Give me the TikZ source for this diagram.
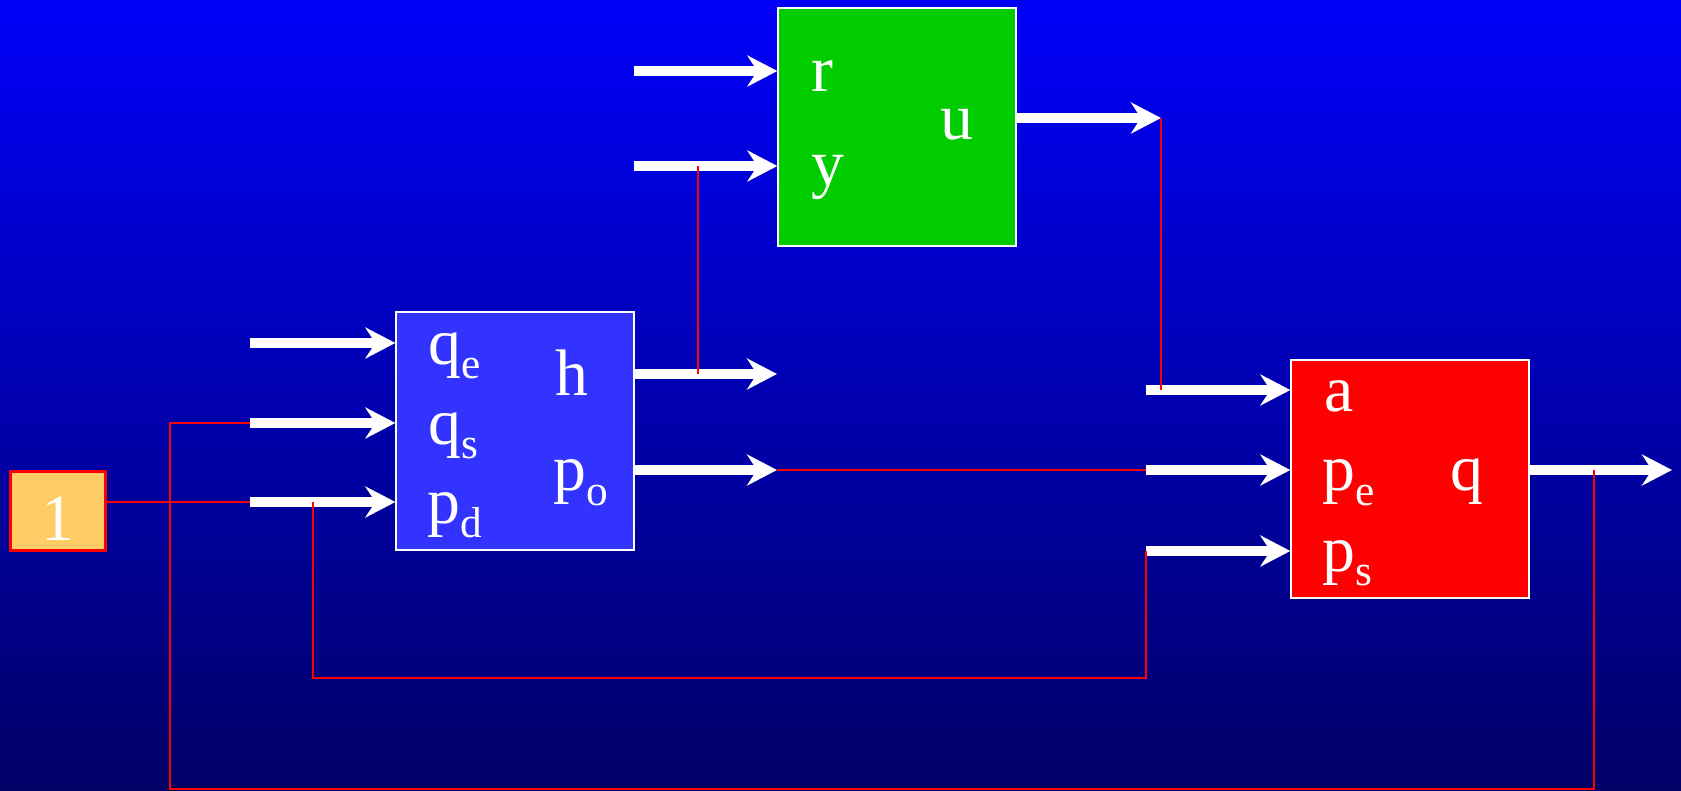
\documentclass[tikz,border=0pt]{standalone}
\usepackage{fontspec}
\setmainfont{Liberation Serif}
\usetikzlibrary{arrows.meta}
\definecolor{bgtop}{RGB}{0,0,250}
\definecolor{bgbot}{RGB}{0,0,102}
\definecolor{cblue}{HTML}{3333FF}
\definecolor{cgreen}{HTML}{00CC00}
\definecolor{cred}{HTML}{FF0000}
\definecolor{corange}{HTML}{FFCC66}
\tikzset{
  every picture/.style={x=0.01cm, y=-0.01cm},
  blk/.style={draw=white, fill=#1, line width=0.6pt, minimum width=2.37cm, minimum height=2.37cm, inner sep=0pt},
  flow/.style={-{Stealth[length=3mm, width=3.1mm, inset=1mm]}, draw=white, line width=2.85pt},
  wire/.style={draw=cred, line width=0.6pt},
  lbl/.style={text=white, anchor=base west, inner sep=0pt, font=\fontsize{18.7}{22}\selectfont},
}
\newcommand{\low}[1]{\raisebox{-4pt}{\fontsize{12.3}{14}\selectfont #1}}

\begin{document}
\begin{tikzpicture}
  \useasboundingbox (0,0) rectangle (1681,791);
  \shade[top color=bgtop, bottom color=bgbot] (0,0) rectangle (1681,791);

  % blocks
  \node[blk=corange, draw=cred, line width=0.85pt, minimum width=0.94cm, minimum height=0.78cm] (one) at (58,511) {};
  \node[blk=cblue] (bl) at (515,431) {};
  \node[blk=cgreen] (gr) at (897,127) {};
  \node[blk=cred] (rd) at (1410,479) {};

  % signal arrows
  \foreach \n/\y in {iqe/343, iqs/423, ipd/502} {
    \coordinate (\n) at (250,\y);
    \draw[flow] (\n) -- (\n -| bl.west);
  }
  \foreach \n/\y in {oh/374, opo/470} {
    \coordinate (\n) at (777,\y);
    \draw[flow] (bl.east |- \n) -- (\n);
  }
  \foreach \n/\y in {ir/71, iy/166} {
    \coordinate (\n) at (634,\y);
    \draw[flow] (\n) -- (\n -| gr.west);
  }
  \coordinate (ou) at (1161,118);
  \draw[flow] (gr.east |- ou) -- (ou);
  \foreach \n/\y in {ia/390, ipe/470, ips/551} {
    \coordinate (\n) at (1146,\y);
    \draw[flow] (\n) -- (\n -| rd.west);
  }
  \coordinate (oq) at (1672,470);
  \draw[flow] (rd.east |- oq) -- (oq);

  % red links
  \coordinate (qtap) at (1594,470);
  \coordinate (bot) at (170,789);
  \coordinate (pdtap) at (313,502);
  \coordinate (low) at (313,678);
  \coordinate (htap) at (698,374);
  \draw[wire] (one.east |- ipd) -- (ipd);
  \draw[wire] (iqs) -| (bot) -| (qtap);
  \draw[wire] (pdtap) -- (low) -| (ips);
  \draw[wire] (htap) -- (htap |- iy);
  \draw[wire] (opo) -- (ipe);
  \draw[wire] (ou) -- (ou |- ia);

  % labels
  \node[lbl, anchor=base] (l1) at (58,540) {1};
  \node[lbl] (lqe) at (428,364) {q\low{e}};
  \node[lbl] (lqs) at (428,444) {q\low{s}};
  \node[lbl] (lpd) at (427,523) {p\low{d}};
  \node[lbl] (lh) at (555,396) {h};
  \node[lbl] (lpo) at (553,491) {p\low{o}};
  \node[lbl] (lr) at (811,92) {r};
  \node[lbl] (ly) at (811,186) {y};
  \node[lbl] (lu) at (940,140) {u};
  \node[lbl] (la) at (1324,412) {a};
  \node[lbl] (lpe) at (1322,491) {p\low{e}};
  \node[lbl] (lps) at (1322,571) {p\low{s}};
  \node[lbl] (lq) at (1450,491) {q};
\end{tikzpicture}
\end{document}
